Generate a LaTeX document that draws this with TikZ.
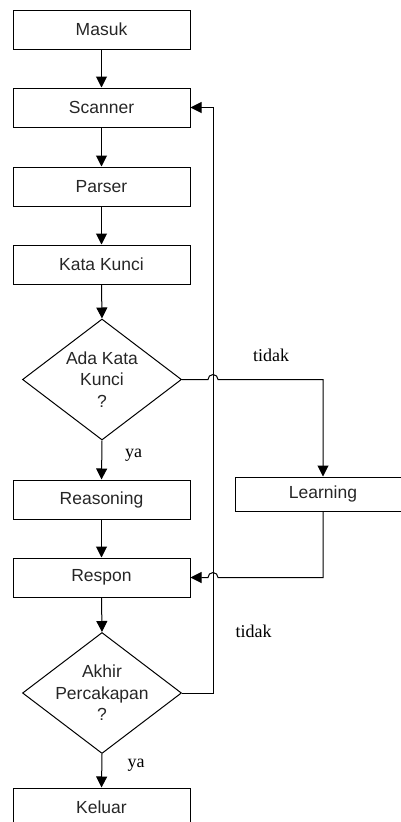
\documentclass[tikz,border=0pt]{standalone}
\usepackage{fontspec}
\setmainfont{Liberation Serif}
\newfontfamily\boxfont{Liberation Sans}
\usetikzlibrary{shapes.geometric,arrows.meta}
\begin{document}
\begin{tikzpicture}[x=1pt,y=-1pt,
  proc/.style={draw, line width=1pt, minimum width=177pt, minimum height=39pt,
    inner sep=0pt, text=black!85, font=\boxfont\fontsize{17.5}{21.5}\selectfont},
  dec/.style={draw, diamond, line width=1pt, minimum width=159pt,
    minimum height=121pt, inner sep=0pt},
  dectext/.style={align=center, inner sep=0pt, text=black!85,
    font=\boxfont\fontsize{17.5}{21.5}\selectfont},
  lbl/.style={inner sep=0pt, anchor=base west, font=\fontsize{18}{20}\selectfont},
  flow/.style={draw, line width=1pt, -{Triangle[width=11pt,length=11pt]}},
  wire/.style={draw, line width=1pt}]
\useasboundingbox (0,0) rectangle (400,822);

% main column
\node[proc] (masuk)   at (101.5,29.5)  {Masuk};
\node[proc] (scanner) at (101.5,107.5) {Scanner};
\node[proc] (parser)  at (101.5,186.5) {Parser};
\node[proc] (kunci)   at (101.5,264.5) {Kata Kunci};
\node[dec]  (d1)      at (102,379.5)   {};
\node[dectext] (d1t)  at (d1) {Ada Kata\\Kunci\\?};
\node[proc] (reason)  at (101.5,499.5) {Reasoning};
\node[proc] (respon)  at (101.5,577.5) {Respon};
\node[dec]  (d2)      at (102,693)     {};
\node[dectext] (d2t)  at (d2) {Akhir\\Percakapan\\?};
\node[proc] (keluar)  at (101.5,807.5) {Keluar};

% side branch
\node[proc, minimum width=176pt, minimum height=34pt] (learn) at (323,494) {Learning};

% vertical return line
\coordinate (bus) at (213,0);

% straight flow
\draw[flow] (masuk.south) -- (scanner.north);
\draw[flow] (scanner.south) -- (parser.north);
\draw[flow] (parser.south) -- (kunci.north);
\draw[flow] (kunci.south) -- (d1.north);
\draw[flow] (d1.south) -- (reason.north);
\draw[flow] (reason.south) -- (respon.north);
\draw[flow] (respon.south) -- (d2.north);
\draw[flow] (d2.south) -- (keluar.north);

% loop back to the scanner
\draw[flow] (d2.east) -| (bus |- scanner.east) -- (scanner.east);

% no keyword: go to learning, hopping over the return line
\draw[flow] (d1.east) -- ([xshift=-5pt]bus |- d1.east)
  arc[start angle=180, end angle=0, radius=5pt] -| (learn.north);
\draw[flow] (learn.south) |- ([xshift=5pt]bus |- respon.east)
  arc[start angle=0, end angle=180, radius=5pt] -- (respon.east);

% branch labels
\node[lbl] (tidak1) at (253,361.5) {tidak};
\node[lbl] (tidak2) at (235.5,637) {tidak};
\node[lbl] (ya1)    at (125,457)   {ya};
\node[lbl] (ya2)    at (127.5,767) {ya};
\end{tikzpicture}
\end{document}
